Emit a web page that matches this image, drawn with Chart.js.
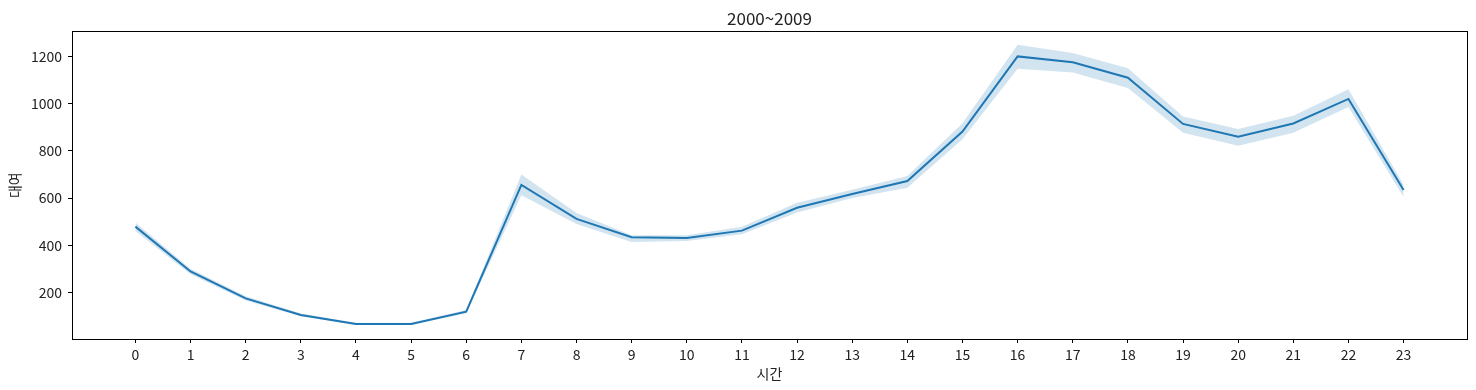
<!DOCTYPE html>
<html>
<head>
<meta charset="utf-8">
<script src="https://cdn.jsdelivr.net/npm/chart.js@4/dist/chart.umd.min.js"></script>
<style>
  html, body { margin: 0; padding: 0; background: #fff; }
  #wrap { width: 1476px; height: 390px; }
</style>
</head>
<body>
<div id="wrap"><canvas id="grafico"></canvas></div>
<script>
// dados (hora x média de aluguel, com banda de confiança)
const horas = [0,1,2,3,4,5,6,7,8,9,10,11,12,13,14,15,16,17,18,19,20,21,22,23];
const media = [479,289,175,105,67,67,119,656,512,434,431,462,559,617,672,882,1200,1175,1110,914,860,916,1020,634];
const bandaSup = [497,301,184,111,72,72,126,700,537,443,443,479,580,635,694,917,1249,1214,1150,945,893,949,1061,656];
const bandaInf = [461,277,166,99,62,62,112,612,490,414,418,447,539,600,644,849,1148,1132,1066,877,822,877,986,604];
const ticksY = [200,400,600,800,1000,1200];

const fonte = '"Noto Sans CJK KR", "Noto Sans", sans-serif';
const corTexto = '#222';

const pontos = arr => horas.map((h, i) => ({ x: h, y: arr[i] }));

// moldura em volta da área do gráfico (como o matplotlib)
const moldura = {
  id: 'moldura',
  afterDraw(chart) {
    const a = chart.chartArea;
    const ctx = chart.ctx;
    ctx.save();
    ctx.strokeStyle = '#000';
    ctx.lineWidth = 1;
    ctx.strokeRect(Math.round(a.left) + 0.5, Math.round(a.top) + 0.5,
                   Math.round(a.right - a.left), Math.round(a.bottom - a.top));
    ctx.restore();
  }
};

const contexto = document.getElementById('grafico').getContext('2d');
new Chart(contexto, {
  type: 'line',
  data: {
    datasets: [
      {
        label: '대여',
        data: pontos(media),
        borderColor: '#1f77b4',
        borderWidth: 2,
        pointRadius: 0,
        fill: false,
        tension: 0,
        order: 0
      },
      {
        label: 'sup',
        data: pontos(bandaSup),
        borderWidth: 0,
        borderColor: 'rgba(0,0,0,0)',
        backgroundColor: 'rgba(31,119,180,0.2)',
        pointRadius: 0,
        fill: '+1',
        order: 1
      },
      {
        label: 'inf',
        data: pontos(bandaInf),
        borderWidth: 0,
        borderColor: 'rgba(0,0,0,0)',
        pointRadius: 0,
        fill: false,
        order: 2
      }
    ]
  },
  options: {
    responsive: true,
    maintainAspectRatio: false,
    animation: false,
    layout: { padding: { left: 0, right: 9, top: 0, bottom: 0 } },
    plugins: {
      legend: { display: false },
      tooltip: { enabled: false },
      title: {
        display: true,
        fullSize: false, // centraliza sobre a área do gráfico
        text: '2000~2009',
        color: corTexto,
        font: { family: fonte, size: 17, weight: 'normal' },
        padding: { top: 8, bottom: 3 }
      }
    },
    scales: {
      x: {
        type: 'linear',
        min: -1.15,
        max: 24.15,
        afterBuildTicks: s => { s.ticks = horas.map(h => ({ value: h })); },
        afterFit: s => { s.height = 51; },
        grid: { display: true, drawOnChartArea: false, drawTicks: true, tickLength: 4, color: '#000' },
        border: { display: true, color: '#000' },
        ticks: { color: corTexto, font: { family: fonte, size: 14 }, padding: 3, maxRotation: 0, autoSkip: false,
                 callback: v => String(v) },
        title: { display: true, text: '시간', color: corTexto, font: { family: fonte, size: 14 }, padding: { top: 0, bottom: 8 } }
      },
      y: {
        type: 'linear',
        min: 3,
        max: 1306,
        afterBuildTicks: s => { s.ticks = ticksY.map(v => ({ value: v })); },
        afterFit: s => { s.width = 72; },
        grid: { display: true, drawOnChartArea: false, drawTicks: true, tickLength: 4, color: '#000' },
        border: { display: true, color: '#000' },
        ticks: { color: corTexto, font: { family: fonte, size: 14 }, padding: 6, callback: v => String(v) },
        title: { display: true, text: '대여', color: corTexto, font: { family: fonte, size: 14 }, padding: { top: 6, bottom: 0 } }
      }
    }
  },
  plugins: [moldura]
});
</script>
</body>
</html>
